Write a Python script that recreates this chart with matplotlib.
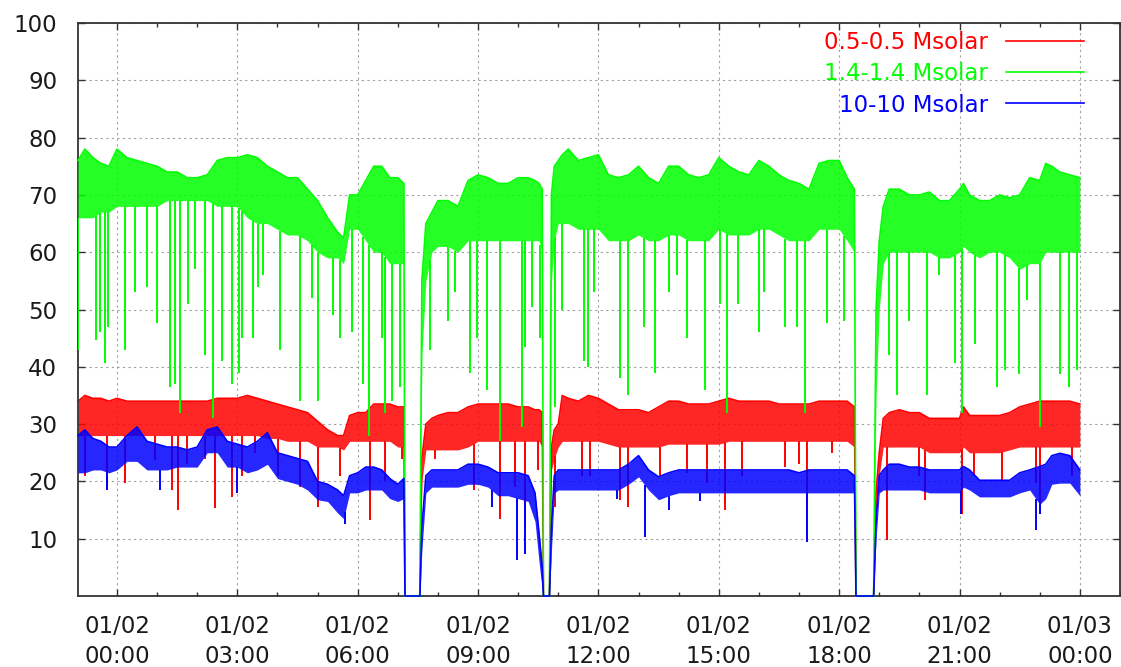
import numpy as np
import matplotlib.pyplot as plt
import matplotlib.dates as mdates

plt.rcParams["font.family"] = "DejaVu Sans"

# sample times, hours after 01/02 00:00
hours = [-0.97, -0.8, -0.6, -0.4, -0.2, 0.0, 0.25, 0.5, 0.75, 1.0,
         1.25, 1.5, 1.75, 2.0, 2.25, 2.5, 2.75, 3.0, 3.25, 3.5,
         3.75, 4.0, 4.25, 4.5, 4.75, 5.0, 5.25, 5.5, 5.65, 5.8,
         6.0, 6.2, 6.4, 6.6, 6.8, 7.0, 7.15, 7.18, 7.55, 7.6,
         7.7, 7.85, 8.0, 8.25, 8.5, 8.75, 9.0, 9.25, 9.5, 9.75,
         10.0, 10.25, 10.42, 10.52, 10.6, 10.63, 10.78, 10.83, 10.9, 11.0,
         11.1, 11.25, 11.5, 11.75, 12.0, 12.25, 12.5, 12.75, 13.0, 13.25,
         13.5, 13.75, 14.0, 14.25, 14.5, 14.75, 15.0, 15.25, 15.5, 15.75,
         16.0, 16.25, 16.5, 16.75, 17.0, 17.25, 17.5, 17.75, 18.0, 18.2,
         18.38, 18.42, 18.86, 18.92, 19.0, 19.1, 19.25, 19.5, 19.75, 20.0,
         20.25, 20.5, 20.75, 21.0, 21.1, 21.25, 21.5, 21.75, 22.0, 22.25,
         22.5, 22.75, 23.0, 23.15, 23.3, 23.5, 23.75, 24.0]

# 1.4-1.4 Msolar: upper / lower edge of the dense band
green_hi = [76, 78, 76.5, 75.5, 75, 78, 76.5, 76, 75.5, 75,
            74, 74, 73, 73, 73.5, 76, 76.5, 76.5, 77, 76.5,
            75, 74, 73, 73, 71, 69, 66, 63.5, 62.5, 70,
            70, 72.5, 75, 75, 73, 73, 72, 0, 0, 55,
            65, 67, 69, 69, 68, 72.5, 73.5, 73, 72, 72,
            73, 73, 72.5, 72, 71, 0, 0, 70, 75, 76,
            77, 78, 76, 76.5, 77, 73.5, 73, 73.5, 75, 73,
            72, 75, 75, 73.5, 73, 73.5, 76.5, 75, 74, 73.5,
            76, 75, 73.5, 72.5, 72, 71, 75.5, 76, 76, 73,
            71, 0, 0, 50, 62, 68, 71, 71, 70, 70,
            70.5, 69, 69, 71, 72, 70, 69, 69, 70, 69.5,
            70, 73, 72.5, 75.5, 75, 74, 73.5, 73]
green_lo = [66, 66, 66, 67, 67, 68, 68, 68, 68, 68,
            69, 69, 69, 69, 69, 68, 68, 68, 66, 65,
            65, 64, 63, 63, 62, 60, 59, 59, 58, 64,
            64, 62, 60, 60, 58, 58, 58, 0, 0, 42,
            55, 60, 61, 61, 60, 62, 62, 62, 62, 62,
            62, 62, 62, 62, 60, 0, 0, 55, 62, 65,
            65, 65, 64, 64, 64, 62, 62, 62, 63, 62,
            62, 63, 63, 62, 62, 62, 64, 63, 63, 63,
            64, 64, 63, 62, 62, 62, 64, 64, 64, 62,
            60, 0, 0, 35, 50, 58, 60, 60, 60, 60,
            60, 59, 59, 60, 61, 60, 59, 60, 60, 59,
            57, 58, 58, 60, 60, 60, 60, 60]
green_dip_t = [-0.96, -0.51, -0.42, -0.30, -0.22, 0.20, 0.45, 0.74, 0.99, 1.32,
               1.45, 1.57, 1.78, 1.95, 2.19, 2.40, 2.61, 2.86, 3.03, 3.11,
               3.40, 3.52, 3.65, 4.06, 4.56, 4.85, 5.02, 5.39, 5.56, 5.85,
               6.14, 6.27, 6.60, 6.68, 6.85, 7.06, 7.81, 8.26, 8.43, 8.80,
               8.97, 9.22, 9.55, 10.09, 10.17, 10.34, 10.55, 10.92, 11.09, 11.63,
               11.75, 11.88, 12.54, 12.75, 13.13, 13.42, 13.75, 13.96, 14.21, 14.66,
               15.04, 15.21, 15.49, 16.0, 16.12, 16.66, 16.95, 17.16, 17.70, 18.12,
               19.24, 19.44, 19.73, 20.19, 20.48, 20.90, 21.06, 21.39, 21.94, 22.14,
               22.48, 22.68, 23.01, 23.51, 23.72, 23.93]
green_dip = [43, 44.6, 46, 40.6, 47, 43, 53, 54, 47.6, 36.5,
             37, 32, 51, 57, 42, 31, 41, 37, 39, 45,
             45, 54, 56, 43, 34, 52, 34, 49, 45, 46,
             37, 28, 45, 32, 34, 36.5, 43, 48, 53, 39,
             45, 36, 27, 29.5, 43.5, 50.5, 45, 33, 50, 41,
             40, 53, 38, 35, 47, 39, 53, 56, 45, 36,
             51, 32, 51, 46, 53, 47, 47, 32, 47.6, 48,
             42, 35, 48, 35, 56, 40.6, 32, 44, 36.5, 39.4,
             38.8, 51.6, 29.5, 38.8, 36.5, 39.4]

# 0.5-0.5 Msolar
red_hi = [34, 35, 34.5, 34.5, 34, 34.5, 34, 34, 34, 34,
          34, 34, 34, 34, 34, 34.5, 34.5, 34.5, 35, 34.5,
          34, 33.5, 33, 32.5, 32, 30.5, 29, 28, 28, 31.5,
          32, 32, 33.5, 33.5, 33.5, 33, 33, 0, 0, 24,
          30, 31, 31.5, 32, 32, 33, 33.5, 33.5, 33.5, 33.5,
          33, 33, 32.5, 32.5, 32, 0, 0, 26, 29, 30,
          35, 34.5, 34, 35, 34.5, 33.5, 32.5, 32.5, 32.5, 32,
          33, 34, 34, 33.5, 33.5, 33.5, 34, 34.5, 34, 34,
          34, 34, 33.5, 33.5, 33.5, 33.5, 34, 34, 34, 34,
          33, 0, 0, 18, 25, 31, 32, 32.5, 32, 32,
          31, 31, 31, 31, 33, 31.5, 31.5, 31.5, 31.5, 32,
          33, 33.5, 34, 34, 34, 34, 34, 33.5]
red_lo = [28, 28, 28, 28, 28, 28, 28, 28, 28, 28,
          28, 28, 28, 28, 28, 28, 28, 28, 28, 28,
          27.5, 27.5, 27, 27, 27, 26, 26, 26, 25.5, 27,
          27, 27, 27, 27, 27, 26, 26, 0, 0, 20,
          25.5, 25.5, 25.5, 25.5, 25.5, 26, 27, 27, 27, 27,
          27, 27, 27, 27, 26, 0, 0, 22, 24, 26,
          27, 27, 27, 27, 27, 26.5, 26, 26, 26, 26,
          26, 26.5, 26.5, 26.5, 26.5, 26.5, 26.5, 27, 27, 27,
          27, 27, 27, 27, 27, 27, 27, 27, 27, 27,
          26, 0, 0, 15, 21, 26, 26, 26, 26, 26,
          25, 25, 25, 25, 26, 25, 25, 25, 25, 25.5,
          26, 26, 26, 26, 26, 26, 26, 26]
red_dip_t = [-0.8, -0.26, 0.2, 0.95, 1.36, 1.53, 1.74, 2.19, 2.44, 2.86,
             3.11, 3.44, 4.02, 4.56, 5.02, 5.56, 6.31, 6.68, 7.1, 7.93,
             8.89, 9.55, 9.93, 10.17, 10.5, 10.92, 11.59, 11.8, 12.54, 12.75,
             13.54, 14.2, 14.7, 15.16, 15.58, 16.66, 16.99, 17.2, 17.82, 19.19,
             19.98, 20.15, 21.06, 21.35, 22.06, 22.9, 23.0, 23.81]
red_dip = [21, 18.5, 19.7, 23.7, 18.5, 15, 23, 24, 15.3, 17.3,
           21, 25, 21, 19, 15.6, 21, 13.3, 20, 24, 24,
           18.5, 13.5, 19, 11.8, 22, 15.6, 21, 21, 16.7, 15.6,
           21, 21.5, 19.7, 15, 21, 22.6, 23, 15.6, 25, 9.8,
           21, 16.7, 14.4, 21, 20, 19.7, 14.4, 21]

# 10-10 Msolar
blue_hi = [28, 29, 27.5, 27, 26, 26, 28, 29.5, 27, 26.5,
           26, 26, 25.5, 26, 29, 29.5, 27, 26.5, 26, 27,
           28.5, 25, 24.5, 24, 23.5, 20, 19.5, 18.5, 17.5, 21,
           21.5, 22.5, 22.5, 22, 20.5, 19.5, 20.5, 0, 0, 12,
           21, 22, 22, 22, 22, 23, 23, 22.5, 21.5, 21.5,
           21.5, 21, 18, 11, 5, 0, 0, 12, 21, 22,
           22, 22, 22, 22, 22, 22, 22, 23, 24.5, 22,
           20.8, 21.5, 22, 22, 22, 22, 22, 22, 22, 22,
           22, 22, 22, 22, 21.5, 22, 22, 22, 22, 22,
           21, 0, 0, 12.7, 21, 22, 23, 23, 22.5, 22.5,
           22, 22, 22, 22, 22.6, 22, 20.2, 20.2, 20.2, 20.2,
           21.5, 22, 22.6, 23, 24.5, 24.9, 24.5, 22]
blue_lo = [21.5, 21.5, 22, 22, 21.5, 22, 23.5, 23.5, 22, 22,
           22, 22.5, 22.5, 22.5, 25, 25, 22.5, 22.5, 21.5, 22,
           23, 20.5, 20, 19.5, 18.5, 16.8, 16.5, 14.5, 13.5, 18,
           18, 18.5, 18.5, 18.5, 17, 16.5, 17, 0, 0, 8,
           18, 19, 19, 19, 19, 19.5, 19.5, 19, 17.5, 17.5,
           17, 16.5, 13, 6, 1, 0, 0, 8, 18, 18.5,
           18.5, 18.5, 18.5, 18.5, 18.5, 18.5, 18.5, 19.5, 20.8, 18.5,
           16.8, 17.5, 18, 18, 18, 18, 18, 18, 18, 18,
           18, 18, 18, 18, 18, 18, 18, 18, 18, 18,
           18, 0, 0, 10, 18, 18.5, 18.5, 18.5, 18.5, 18.5,
           18, 18, 18, 18, 19, 18.5, 17.3, 17.3, 17.3, 17.3,
           18, 18.5, 16, 17, 19.5, 19.7, 19.7, 17.5]
blue_dip_t = [-0.26, 1.07, 2.98, 5.69, 9.34, 9.97, 10.17, 12.46, 13.15, 13.75,
              14.54, 17.2, 21.03, 22.9, 23.0]
blue_dip = [18.5, 18.5, 18, 12.5, 15.6, 6.3, 7.4, 17, 10.3, 15,
            16.5, 9.5, 14.4, 11.5, 14.4]

base = np.datetime64("2009-01-02T00:00")


def to_time(h):
    secs = np.round(np.asarray(h, dtype=float) * 3600).astype(np.int64)
    return base + secs.astype("timedelta64[s]")


t = to_time(hours)

fig = plt.figure(figsize=(11.21, 6.67), dpi=100)
ax = fig.add_axes([0.0696, 0.1064, 0.9295, 0.8591])

traces = [
    ("0.5-0.5 Msolar", "#ff0000", red_hi, red_lo, red_dip_t, red_dip, 2),
    ("1.4-1.4 Msolar", "#00ff00", green_hi, green_lo, green_dip_t, green_dip, 3),
    ("10-10 Msolar", "#0000ff", blue_hi, blue_lo, blue_dip_t, blue_dip, 4),
]
handles = []
for label, col, hi, lo, dt, dv, z in traces:
    ax.fill_between(t, lo, hi, color=col, alpha=0.85, linewidth=0, zorder=z)
    ln, = ax.plot(t, hi, color=col, lw=1.2, zorder=z, label=label, clip_on=False)
    top = np.interp(dt, hours, lo)
    ax.vlines(to_time(dt), dv, top, color=col, lw=1.4, zorder=z)
    handles.append(ln)

ax.set_xlim(to_time(-0.97), to_time(25.0))
ax.set_ylim(0, 100)
ax.set_yticks(range(10, 101, 10))
ax.xaxis.set_major_locator(mdates.HourLocator(byhour=range(0, 24, 3)))
ax.xaxis.set_minor_locator(mdates.HourLocator())
ax.xaxis.set_major_formatter(mdates.DateFormatter("%m/%d\n%H:%M"))

ax.grid(True, which="major", color="#a0a0a0", linestyle=(0, (2, 3)), linewidth=0.8)
ax.set_axisbelow(True)
ax.tick_params(which="both", direction="in", top=True, right=True,
               colors="#333333", labelcolor="#1a1a1a", labelsize=16.5)
ax.tick_params(which="major", length=5, width=1)
ax.tick_params(which="minor", length=3, width=1)
ax.tick_params(axis="y", pad=15)
ax.tick_params(axis="x", pad=14)
for lab in ax.get_xticklabels():
    lab.set_linespacing(1.35)
for s in ax.spines.values():
    s.set_color("#333333")
    s.set_linewidth(1.3)

ax.legend(handles=handles, loc="upper right",
          bbox_to_anchor=(1084 / 1121, 1 - 31 / 667),
          bbox_transform=fig.transFigure, markerfirst=False, frameon=False,
          labelcolor="linecolor", fontsize=16.5, handlelength=3.4,
          handletextpad=0.8, labelspacing=0.36, alignment="right",
          borderpad=0, borderaxespad=0)

fig.savefig("out.png", dpi=100)
